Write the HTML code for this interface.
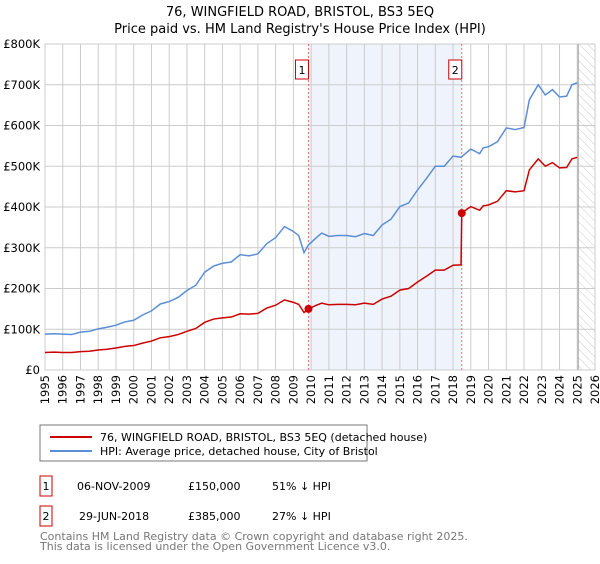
<!DOCTYPE html>
<html><head><meta charset="utf-8"><style>
body{margin:0;background:#fff;font-family:"DejaVu Sans","Liberation Sans",sans-serif;}
svg text{font-family:"DejaVu Sans","Liberation Sans",sans-serif;}
</style></head><body>
<svg id="c" width="600" height="560" xmlns="http://www.w3.org/2000/svg" font-family="DejaVu Sans, Liberation Sans, sans-serif">
<defs><pattern id="hatch" width="6" height="6" patternUnits="userSpaceOnUse" patternTransform="rotate(-45)"><line x1="0" y1="0" x2="0" y2="6" stroke="#ccc" stroke-width="1"/></pattern></defs>
<text x="300" y="16" text-anchor="middle" font-size="13">76, WINGFIELD ROAD, BRISTOL, BS3 5EQ</text>
<text x="300" y="33" text-anchor="middle" font-size="13">Price paid vs. HM Land Registry's House Price Index (HPI)</text>
<g id="plot"></g>
<rect x="40" y="425" width="327" height="36" fill="#fff" stroke="#777"/>
<line x1="50" y1="437" x2="92" y2="437" stroke="#cc0000" stroke-width="2"/>
<text x="100" y="441" font-size="11">76, WINGFIELD ROAD, BRISTOL, BS3 5EQ (detached house)</text>
<line x1="50" y1="451" x2="92" y2="451" stroke="#5b8ed6" stroke-width="2"/>
<text x="100" y="455" font-size="11">HPI: Average price, detached house, City of Bristol</text>
<g>
<rect x="40" y="476" width="12" height="20" fill="#fff" stroke="#cc0000"/>
<text x="46" y="490" text-anchor="middle" font-size="11">1</text>
<text x="77" y="490" font-size="11">06-NOV-2009</text>
<text x="188" y="490" font-size="11">£150,000</text>
<text x="272" y="490" font-size="11">51% ↓ HPI</text></g>
<g>
<rect x="40" y="506" width="12" height="20" fill="#fff" stroke="#cc0000"/>
<text x="46" y="520" text-anchor="middle" font-size="11">2</text>
<text x="79" y="520" font-size="11">29-JUN-2018</text>
<text x="188" y="520" font-size="11">£385,000</text>
<text x="272" y="520" font-size="11">27% ↓ HPI</text></g>
<text x="40" y="540" font-size="11" fill="#777">Contains HM Land Registry data © Crown copyright and database right 2025.</text>
<text x="40" y="550" font-size="11" fill="#777">This data is licensed under the Open Government Licence v3.0.</text>
</svg>
<script>
const hpiYears=[1995,1995.5,1996,1996.5,1997,1997.5,1998,1998.5,1999,1999.5,2000,2000.5,2001,2001.5,2002,2002.5,2003,2003.5,2004,2004.5,2005,2005.5,2006,2006.5,2007,2007.5,2008,2008.5,2009,2009.3,2009.6,2009.85,2010.3,2010.6,2011,2011.5,2012,2012.5,2013,2013.5,2014,2014.5,2015,2015.5,2016,2016.5,2017,2017.5,2018,2018.45,2018.8,2019,2019.5,2019.7,2020,2020.5,2021,2021.5,2022,2022.3,2022.8,2023.2,2023.6,2024,2024.4,2024.7,2025];
const hpiValues=[88,89,88,87,93,95,101,105,110,118,122,135,145,162,168,178,195,208,240,255,262,265,283,280,285,310,325,352,340,330,288,307,325,336,328,330,330,327,335,330,356,370,401,410,442,470,500,500,525,522,535,542,531,545,548,560,594,590,595,663,700,675,688,670,672,700,705];
const propYears=[1995,1995.5,1996,1996.5,1997,1997.5,1998,1998.5,1999,1999.5,2000,2000.5,2001,2001.5,2002,2002.5,2003,2003.5,2004,2004.5,2005,2005.5,2006,2006.5,2007,2007.5,2008,2008.5,2009,2009.3,2009.6,2009.85,2010.3,2010.6,2011,2011.5,2012,2012.5,2013,2013.5,2014,2014.5,2015,2015.5,2016,2016.5,2017,2017.5,2018,2018.45,2018.49,2018.8,2019,2019.5,2019.7,2020,2020.5,2021,2021.5,2022,2022.3,2022.8,2023.2,2023.6,2024,2024.4,2024.7,2025];
const propValues=[43,44,43,43,45,46,49,51,54,58,60,66,71,79,82,87,95,102,117,125,128,130,138,137,139,152,159,172,166,161,141,150,159,164,160,161,161,160,164,161,174,181,196,200,216,230,245,245,257,258,385,395,401,392,403,405,414,440,437,440,491,518,500,509,496,497,518,522];
const sales=[{n:'1',year:2009.85,value:150},{n:'2',year:2018.49,value:385}];
const yTicks=[0,100,200,300,400,500,600,700,800];
const yTickLabels=['£0','£100K','£200K','£300K','£400K','£500K','£600K','£700K','£800K'];
const xTicks=[1995,1996,1997,1998,1999,2000,2001,2002,2003,2004,2005,2006,2007,2008,2009,2010,2011,2012,2013,2014,2015,2016,2017,2018,2019,2020,2021,2022,2023,2024,2025,2026];
const dataEnd=2025.05;
const X0=45,X1=595,Y0=370,Y1=44;
const sx=y=>X0+(y-1995)/(2026-1995)*(X1-X0);
const sy=v=>Y0-v/800*(Y0-Y1);
const NS='http://www.w3.org/2000/svg';
const g=document.getElementById('plot');
function mk(t,a,p){const e=document.createElementNS(NS,t);for(const k in a)e.setAttribute(k,a[k]);(p||g).appendChild(e);return e;}
let e;
e=mk('rect',{x:sx(sales[0].year),y:Y1,width:sx(sales[1].year)-sx(sales[0].year),height:Y0-Y1,fill:'#eef3fc'});


e=mk('rect',{x:sx(dataEnd),y:Y1,width:X1-sx(dataEnd),height:Y0-Y1,fill:'url(#hatch)'});


xTicks.forEach(t=>{e=mk('line',{x1:sx(t),x2:sx(t),y1:Y1,y2:Y0,stroke:'#ccc'});


const gg=mk('g',{transform:'translate('+(sx(t)+4)+',375) rotate(-90)'});
e=mk('text',{x:0,y:0,'text-anchor':'end','font-size':'11.5'},gg);e.textContent=String(t);

});
yTicks.forEach((t,i)=>{e=mk('line',{x1:X0,x2:X1,y1:sy(t),y2:sy(t),stroke:'#ccc'});


e=mk('text',{x:40,y:sy(t)+4,'text-anchor':'end','font-size':'11.5'});e.textContent=yTickLabels[i];

});
e=mk('line',{x1:sx(dataEnd),x2:sx(dataEnd),y1:Y1,y2:Y0,stroke:'#999'});


e=mk('rect',{x:X0,y:Y1,width:X1-X0,height:Y0-Y1,fill:'none',stroke:'#ccc'});


sales.forEach(s=>{e=mk('line',{x1:sx(s.year),x2:sx(s.year),y1:Y1,y2:Y0,stroke:'#f07070','stroke-dasharray':'2,2'});

});
e=mk('polyline',{points:hpiYears.map((y,i)=>sx(y)+','+sy(hpiValues[i])).join(' '),fill:'none',stroke:'#5b8ed6','stroke-width':1.5});


e=mk('polyline',{points:propYears.map((y,i)=>sx(y)+','+sy(propValues[i])).join(' '),fill:'none',stroke:'#cc0000','stroke-width':1.5});


sales.forEach(s=>{e=mk('circle',{cx:sx(s.year),cy:sy(s.value),r:4,fill:'#cc0000'});


const bx=sx(s.year)-12;
e=mk('rect',{x:bx-1,y:60,width:13,height:19,fill:'#fff',stroke:'#cc0000'});


e=mk('text',{x:bx+5.5,y:74,'text-anchor':'middle','font-size':'11'});e.textContent=s.n;

});
</script>
</body></html>
